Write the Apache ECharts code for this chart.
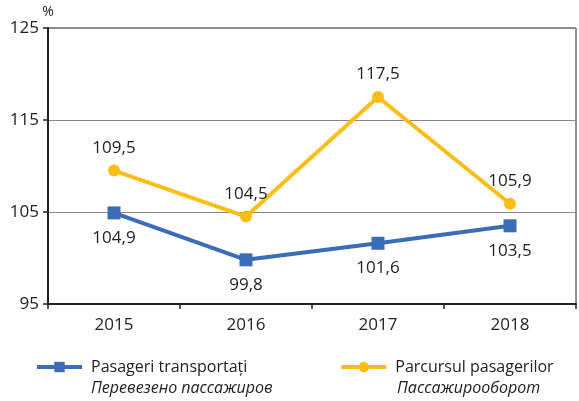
<!DOCTYPE html>
<html>
<head>
<meta charset="UTF-8">
<script src="https://cdn.jsdelivr.net/npm/echarts@6/dist/echarts.min.js"></script>
<style>
  html, body { margin: 0; padding: 0; background: #fff; }
  #main { width: 579px; height: 401px; }
</style>
</head>
<body>
<div id="main"></div>
<script>
var years = ['2015', '2016', '2017', '2018'];
var passengers = [104.9, 99.8, 101.6, 103.5];   // Pasageri transportați
var turnover = [109.5, 104.5, 117.5, 105.9];    // Parcursul pasagerilor
var yTicks = [95, 105, 115, 125];

var FONT = '"Open Sans", "Noto Sans", sans-serif';
var BLUE = '#3a6db6';
var YELLOW = '#fbbd16';

function comma(p) { return String(p.value.toFixed(1)).replace('.', ','); }

var chart = echarts.init(document.getElementById('main'));
chart.setOption({
  animation: false,
  textStyle: { fontFamily: FONT },
  grid: {
    left: 48, right: 3, top: 28, bottom: 97,
    show: true, borderColor: '#222', borderWidth: 1
  },
  xAxis: {
    type: 'category',
    data: years,
    boundaryGap: true,
    axisLine: { lineStyle: { color: '#222', width: 2 } },
    axisTick: { show: true, length: 5, lineStyle: { color: '#222', width: 1.5 } },
    axisLabel: { color: '#222', fontSize: 17, margin: 13, fontFamily: FONT }
  },
  yAxis: {
    type: 'value',
    min: yTicks[0], max: yTicks[yTicks.length - 1], interval: 10,
    name: '%',
    nameGap: 9,
    nameTextStyle: { color: '#222', fontSize: 14, fontFamily: FONT },
    axisLine: { show: true, lineStyle: { color: '#222', width: 2 } },
    axisTick: { show: true, length: 5, lineStyle: { color: '#222', width: 1.5 } },
    axisLabel: { color: '#222', fontSize: 17, margin: 9, fontFamily: FONT },
    splitLine: { lineStyle: { color: '#888', width: 1 } }
  },
  legend: {
    left: 30, top: 354,
    itemWidth: 45, itemHeight: 13, itemGap: 92,
    lineStyle: { width: 4 },
    textStyle: { color: '#222', fontSize: 16, fontFamily: FONT, padding: [0, 0, 0, 4] },
    data: ['Pasageri transportați', 'Parcursul pasagerilor']
  },
  graphic: [
    { type: 'text', left: 91, top: 380, style: { text: 'Перевезено пассажиров', font: 'italic 16px ' + FONT, fill: '#222' } },
    { type: 'text', left: 397, top: 380, style: { text: 'Пассажирооборот', font: 'italic 16px ' + FONT, fill: '#222' } }
  ],
  series: [
    {
      name: 'Pasageri transportați',
      type: 'line',
      data: passengers,
      symbol: 'rect', symbolSize: 13,
      lineStyle: { color: BLUE, width: 4 },
      itemStyle: { color: BLUE },
      label: { show: true, position: 'bottom', distance: 10, formatter: comma, color: '#222', fontSize: 17, fontFamily: FONT }
    },
    {
      name: 'Parcursul pasagerilor',
      type: 'line',
      data: turnover,
      symbol: 'circle', symbolSize: 12,
      lineStyle: { color: YELLOW, width: 4 },
      itemStyle: { color: YELLOW },
      label: { show: true, position: 'top', distance: 8, formatter: comma, color: '#222', fontSize: 17, fontFamily: FONT }
    }
  ]
});
</script>
</body>
</html>
